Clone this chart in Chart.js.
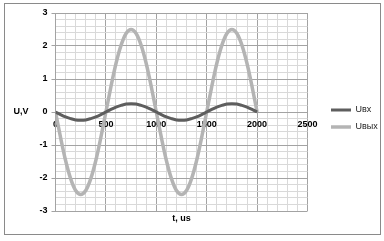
<!DOCTYPE html>
<html>
<head>
<meta charset="utf-8">
<script src="https://cdn.jsdelivr.net/npm/chart.js@4.4.0/dist/chart.umd.min.js"></script>
<style>
  html, body { margin: 0; padding: 0; background: #fff; }
  #wrap { width: 384px; height: 241px; }
</style>
</head>
<body>
<div id="wrap"><canvas id="chart"></canvas></div>
<script>
// time, us
var times = [0, 50, 100, 150, 200, 250, 300, 350, 400, 450, 500, 550, 600, 650, 700, 750, 800, 850, 900, 950,
             1000, 1050, 1100, 1150, 1200, 1250, 1300, 1350, 1400, 1450, 1500, 1550, 1600, 1650, 1700, 1750,
             1800, 1850, 1900, 1950, 2000];
// input voltage, V
var uIn = [0, -0.08, -0.15, -0.2, -0.24, -0.25, -0.24, -0.2, -0.15, -0.08, 0, 0.08, 0.15, 0.2, 0.24, 0.25, 0.24, 0.2, 0.15, 0.08,
           0, -0.08, -0.15, -0.2, -0.24, -0.25, -0.24, -0.2, -0.15, -0.08, 0, 0.08, 0.15, 0.2, 0.24, 0.25, 0.24, 0.2, 0.15, 0.08, 0];
// output voltage, V
var uOut = [0, -0.77, -1.47, -2.02, -2.38, -2.5, -2.38, -2.02, -1.47, -0.77, 0, 0.77, 1.47, 2.02, 2.38, 2.5, 2.38, 2.02, 1.47, 0.77,
            0, -0.77, -1.47, -2.02, -2.38, -2.5, -2.38, -2.02, -1.47, -0.77, 0, 0.77, 1.47, 2.02, 2.38, 2.5, 2.38, 2.02, 1.47, 0.77, 0];
var seriesNames = ['Uвх', 'Uвых'];
var xTicks = [0, 500, 1000, 1500, 2000, 2500];
var yTicks = [-3, -2, -1, 0, 1, 2, 3];

var MAJOR = '#a3a3a3';
var MINOR = '#d9d9d9';

function pts(ys) {
    var out = [];
    for (var i = 0; i < times.length; i++) out.push({x: times[i], y: ys[i]});
    return out;
}

// frame, axis titles, legend placement
var extras = {
    id: 'extras',
    afterLayout: function (chart) {
        var L = chart.legend;
        L.right = chart.width;
        L.width = L.right - L.left;
        L.top = 97.5;
        L.height = L.bottom - L.top;
    },
    beforeDraw: function (chart) {
        var c = chart.ctx;
        c.save();
        c.fillStyle = '#fff';
        c.fillRect(0, 0, chart.width, chart.height);
        c.strokeStyle = '#8a8a8a';
        c.lineWidth = 1;
        c.strokeRect(4.5, 3.5, 376, 231);
        c.restore();
    },
    afterDraw: function (chart) {
        var c = chart.ctx, a = chart.chartArea;
        c.save();
        c.fillStyle = '#000';
        c.font = 'bold 9px "Liberation Sans"';
        c.textAlign = 'center';
        c.textBaseline = 'middle';
        c.fillText('U,V', 21, chart.scales.y.getPixelForValue(0));
        c.fillText('t, us', (a.left + a.right) / 2, 219);
        c.restore();
    }
};

var ctx = document.getElementById('chart').getContext('2d');
var chart = new Chart(ctx, {
    type: 'line',
    data: {
        datasets: [{
            label: seriesNames[0],
            data: pts(uIn),
            borderColor: '#5e5e5e',
            backgroundColor: '#5e5e5e',
            borderWidth: 3,
            pointRadius: 0,
            tension: 0.3,
            fill: false
        }, {
            label: seriesNames[1],
            data: pts(uOut),
            borderColor: '#b4b4b4',
            backgroundColor: '#b4b4b4',
            borderWidth: 3.5,
            pointRadius: 0,
            tension: 0.3,
            fill: false
        }]
    },
    options: {
        responsive: true,
        maintainAspectRatio: false,
        animation: false,
        layout: { padding: { left: 0, right: 11, top: 13, bottom: 30 } },
        plugins: {
            legend: {
                position: 'right',
                align: 'start',
                maxWidth: 50,
                labels: {
                    usePointStyle: true,
                    pointStyle: 'line',
                    pointStyleWidth: 20,
                    boxWidth: 20,
                    padding: 8,
                    color: '#222',
                    font: { family: 'Liberation Sans', size: 9 }
                }
            },
            tooltip: { enabled: false }
        },
        scales: {
            x: {
                type: 'linear',
                position: { y: 0 },
                min: 0,
                max: 2500,
                afterFit: function (s) { s.height = 13; },
                afterBuildTicks: function (s) {
                    var t = [];
                    for (var v = 0; v <= 2500; v += 100) t.push({value: v});
                    s.ticks = t;
                },
                ticks: {
                    autoSkip: false,
                    maxRotation: 0,
                    padding: 3,
                    color: '#000',
                    font: { family: 'Liberation Sans', size: 9, weight: 'bold' },
                    callback: function (v) { return xTicks.indexOf(v) >= 0 ? String(v) : ''; }
                },
                grid: {
                    color: function (c) { return c.tick && c.tick.value % 500 === 0 ? MAJOR : MINOR; },
                    tickColor: function (c) { return c.tick && c.tick.value % 500 === 0 ? MAJOR : 'rgba(0,0,0,0)'; },
                    tickLength: 4,
                    lineWidth: 1
                },
                border: { color: MAJOR }
            },
            y: {
                position: 'left',
                min: -3,
                max: 3,
                afterFit: function (s) { s.width = 55.5; },
                afterBuildTicks: function (s) {
                    var t = [];
                    for (var v = -30; v <= 30; v += 2) t.push({value: v / 10});
                    s.ticks = t;
                },
                ticks: {
                    autoSkip: false,
                    padding: 4,
                    color: '#000',
                    font: { family: 'Liberation Sans', size: 9, weight: 'bold' },
                    callback: function (v) { return yTicks.indexOf(v) >= 0 ? String(v) : ''; }
                },
                grid: {
                    color: function (c) { return c.tick && Number.isInteger(c.tick.value) ? MAJOR : MINOR; },
                    tickColor: function (c) { return c.tick && Number.isInteger(c.tick.value) ? MAJOR : 'rgba(0,0,0,0)'; },
                    tickLength: 4,
                    lineWidth: 1
                },
                border: { color: MAJOR }
            },
            y2: {
                position: 'right',
                display: true,
                afterFit: function (s) { s.width = 15.5; },
                ticks: { display: false },
                grid: { display: false, drawOnChartArea: false },
                border: { display: false }
            }
        }
    },
    plugins: [extras]
});
</script>
</body>
</html>
